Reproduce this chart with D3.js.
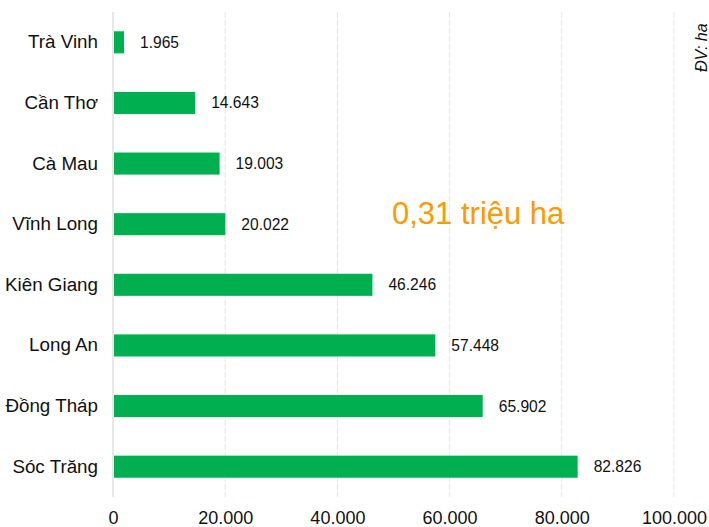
<!DOCTYPE html>
<html>
<head>
<meta charset="utf-8">
<script src="https://cdn.jsdelivr.net/npm/d3@7"></script>
<style>
  body { margin: 0; background: #fff; }
  text { font-family: Arial, "Liberation Sans", sans-serif; }
</style>
</head>
<body>
<svg id="chart" width="709" height="527"></svg>
<script>
const provinces = ["Trà Vinh", "Cần Thơ", "Cà Mau", "Vĩnh Long", "Kiên Giang", "Long An", "Đồng Tháp", "Sóc Trăng"];
const areas = [1965, 14643, 19003, 20022, 46246, 57448, 65902, 82826];
const xTicks = [0, 20000, 40000, 60000, 80000, 100000];
const totalLabel = "0,31 triệu ha";
const unitLabel = "ĐV: ha";

const rows = provinces.map((p, i) => ({ name: p, value: areas[i] }));
const fmt = v => d3.format(",")(v).replace(/,/g, ".");

const svg = d3.select("#chart");
const plot = { left: 113, right: 674, top: 12, bottom: 497 };

const x = d3.scaleLinear().domain([0, 100000]).range([plot.left, plot.right]);
const y = d3.scaleBand().domain(provinces).range([plot.top, plot.bottom]).paddingInner(0.636).paddingOuter(0.318);

// grid
svg.append("g").selectAll("line")
  .data(xTicks)
  .join("line")
  .attr("x1", d => x(d)).attr("x2", d => x(d))
  .attr("y1", plot.top).attr("y2", plot.bottom)
  .attr("stroke", d => d === 0 ? "#d0d0d0" : "#e6e6e6")
  .attr("stroke-width", 1)
  .attr("stroke-dasharray", d => d === 0 ? null : "6,2");

// bars
svg.append("g").selectAll("rect")
  .data(rows)
  .join("rect")
  .attr("x", x(0) + 1)
  .attr("y", d => y(d.name))
  .attr("width", d => x(d.value) - x(0) - 1)
  .attr("height", y.bandwidth())
  .attr("fill", "#00b050");

// value labels
svg.append("g").selectAll("text")
  .data(rows)
  .join("text")
  .attr("x", d => x(d.value) + 16)
  .attr("y", d => y(d.name) + y.bandwidth() / 2)
  .attr("dy", "0.35em")
  .attr("font-size", 15.6)
  .attr("fill", "#111")
  .text(d => fmt(d.value));

// category axis
const yAxis = d3.axisLeft(y).tickSize(0).tickPadding(15);
const gy = svg.append("g").attr("transform", `translate(${plot.left},0)`).call(yAxis);
gy.select(".domain").remove();
gy.selectAll("text").attr("font-size", 18.8).attr("fill", "#111").style("font-family", "Arial, 'Liberation Sans', sans-serif");

// value axis
const xAxis = d3.axisBottom(x).tickValues(xTicks).tickSize(0).tickPadding(0).tickFormat(fmt);
const gx = svg.append("g").attr("transform", `translate(0,${plot.bottom})`).call(xAxis);
gx.select(".domain").remove();
gx.selectAll("text").attr("font-size", 18).attr("fill", "#111").attr("dy", null).attr("y", 27)
  .style("font-family", "Arial, 'Liberation Sans', sans-serif");

// total annotation
svg.append("text")
  .attr("x", 392).attr("y", 224)
  .attr("font-size", 31)
  .attr("fill", "#ff9900")
  .text(totalLabel);

// unit
svg.append("text")
  .attr("transform", "translate(707,72) rotate(-90)")
  .attr("font-size", 16)
  .attr("font-style", "italic")
  .attr("fill", "#111")
  .text(unitLabel);
</script>
</body>
</html>
